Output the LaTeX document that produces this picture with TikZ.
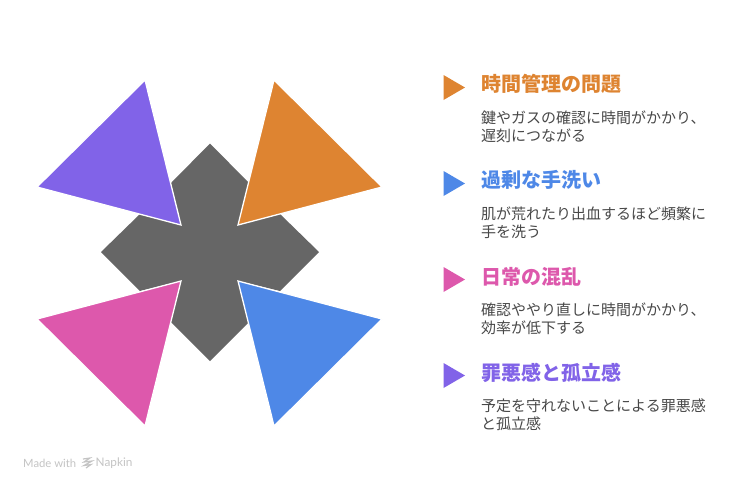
\documentclass[tikz,border=0pt]{standalone}
\usepackage{fontspec}
\setmainfont{Noto Sans CJK JP}
\newfontfamily\latinf{Lato}
\definecolor{corange}{HTML}{DE8431}
\definecolor{cblue}{HTML}{4E88E7}
\definecolor{cpink}{HTML}{DD58AC}
\definecolor{cpurple}{HTML}{8163E8}
\definecolor{cgray}{HTML}{666666}
\definecolor{ctext}{HTML}{484848}
\definecolor{cmark}{HTML}{C4C4C4}
\tikzset{
  petal/.style={line width=1.3pt,draw=white,line join=miter,fill=#1},
  marker/.style={fill=#1,draw=none},
  titletext/.style={anchor=west,inner sep=0pt,font=\fontsize{20}{22}\selectfont\bfseries,text=#1},
  bodytext/.style={anchor=north west,inner sep=0pt,align=left,text=ctext,font=\fontsize{15}{18}\selectfont},
}
\begin{document}
\begin{tikzpicture}[x=1pt,y=-1pt]
\useasboundingbox (0,0) rectangle (754,491);
\fill[white] (0,0) rectangle (754,491);
% central cross
\fill[cgray] (210,143.5) -- (249,183) -- (238,225) -- (280,214) -- (319,252) -- (280,291) -- (238,281) -- (249,322) -- (210,361) -- (171,322) -- (181,281) -- (140,291) -- (101,252) -- (140,214) -- (181,225) -- (171,183) -- cycle;
% petals
\draw[petal=corange] (274,80) -- (382,187) -- (238,225) -- cycle;
\draw[petal=cpurple] (145,80) -- (37,187) -- (181,225) -- cycle;
\draw[petal=cpink] (181,281) -- (37,319) -- (145,426) -- cycle;
\draw[petal=cblue] (238,281) -- (382,319) -- (274,426) -- cycle;
% legend markers
\fill[marker=corange] (443.5,75) -- (465,87.5) -- (443.5,100) -- cycle;
\fill[marker=cblue] (443.5,171) -- (465,183.5) -- (443.5,196) -- cycle;
\fill[marker=cpink] (443.5,267) -- (465,279.5) -- (443.5,292) -- cycle;
\fill[marker=cpurple] (443.5,363) -- (465,375.5) -- (443.5,388) -- cycle;
% legend text
\node[titletext=corange] (t1) at (481,84) {時間管理の問題};
\node[bodytext] (b1) at (481,111) {鍵やガスの確認に時間がかかり、\\遅刻につながる};
\node[titletext=cblue] (t2) at (481,180) {過剰な手洗い};
\node[bodytext] (b2) at (481,207) {肌が荒れたり出血するほど頻繁に\\手を洗う};
\node[titletext=cpink] (t3) at (481,277) {日常の混乱};
\node[bodytext] (b3) at (481,303) {確認ややり直しに時間がかかり、\\効率が低下する};
\node[titletext=cpurple] (t4) at (481,373) {罪悪感と孤立感};
\node[bodytext] (b4) at (481,399) {予定を守れないことによる罪悪感\\と孤立感};
% footer
\node[anchor=west,inner sep=0pt,text=cmark,font=\latinf\fontsize{11.3}{13}\selectfont] (m1) at (23,463) {Made with};
\node[anchor=west,inner sep=0pt,text=cmark,font=\latinf\fontsize{11.8}{13}\selectfont] (m2) at (95.5,463) {Napkin};
\draw[cmark,line width=1.2pt] (83,459) -- (90,458) -- (84,462) -- (92,461) -- (84,465.5) -- (91,464.5) -- (86,468);
\end{tikzpicture}
\end{document}
